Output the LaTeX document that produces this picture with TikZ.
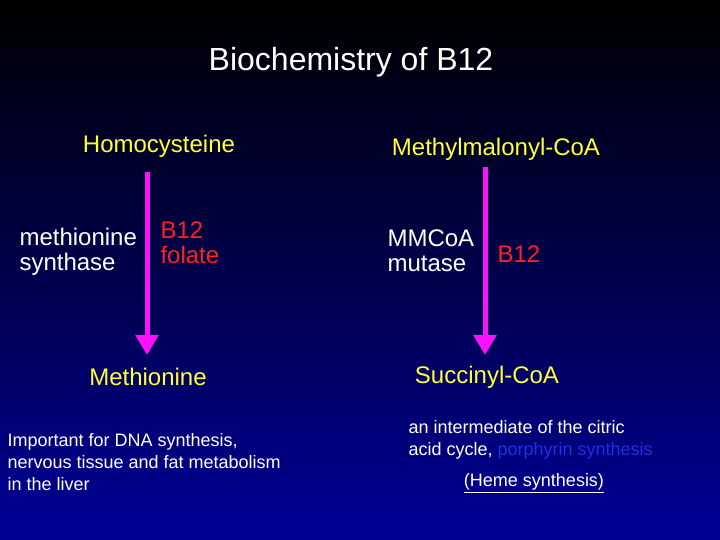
\documentclass[tikz,border=0pt]{standalone}
\usepackage{fontspec}
\setmainfont{Liberation Sans}
\usetikzlibrary{arrows.meta}
\definecolor{ylw}{HTML}{FFFF33}
\definecolor{rd}{HTML}{FF2020}
\definecolor{mag}{HTML}{FF10FF}
\definecolor{lnk}{HTML}{2030E0}
\tikzset{
 yl/.style={text=ylw,font=\fontsize{24}{26}\selectfont},
 wt/.style={text=white,font=\fontsize{24}{25}\selectfont,align=left},
 rt/.style={text=rd,font=\fontsize{24}{25}\selectfont,align=left},
 sm/.style={text=white,font=\fontsize{18}{22}\selectfont,align=left},
 arr/.style={draw=mag,line width=5pt,-{Triangle[length=20pt,width=22pt]}}
}
\begin{document}
\begin{tikzpicture}[x=1pt,y=1pt]
\shade[top color=black,bottom color={rgb,255:red,0;green,0;blue,150}] (0,0) rectangle (720,540);
\useasboundingbox (0,0) rectangle (720,540);
\node[text=white,font=\fontsize{32}{34}\selectfont] (t) at (351,478) {Biochemistry of B12};
\node[yl] (h) at (159,394) {Homocysteine};
\node[yl] (m) at (148,163) {Methionine};
\node[yl] (mm) at (496,391) {Methylmalonyl-CoA};
\node[yl] (s) at (487,163) {Succinyl-CoA};
\coordinate (a1) at (147,368);
\coordinate (a2) at (147,185);
\coordinate (b1) at (485,373);
\coordinate (b2) at (485,185);
\draw[arr] (a1) -- (a2);
\draw[arr] (b1) -- (b2);
\node[wt,anchor=west] (ms) at (16,288) {methionine\\synthase};
\node[rt,anchor=west] (bf) at (157,297) {B12\\folate};
\node[wt,anchor=west] (mc) at (384,289) {MMCoA\\mutase};
\node[rt,anchor=west] (b12) at (494,286) {B12};
\node[sm,anchor=west] (imp) at (4,78) {Important for DNA synthesis,\\nervous tissue and fat metabolism\\in the liver};
\node[sm,anchor=west] (int) at (405,100) {an intermediate of the citric\\acid cycle, \textcolor{lnk}{porphyrin synthesis}};
\node[sm] (heme) at (534,57) {\underline{(Heme synthesis)}};
\end{tikzpicture}
\end{document}
